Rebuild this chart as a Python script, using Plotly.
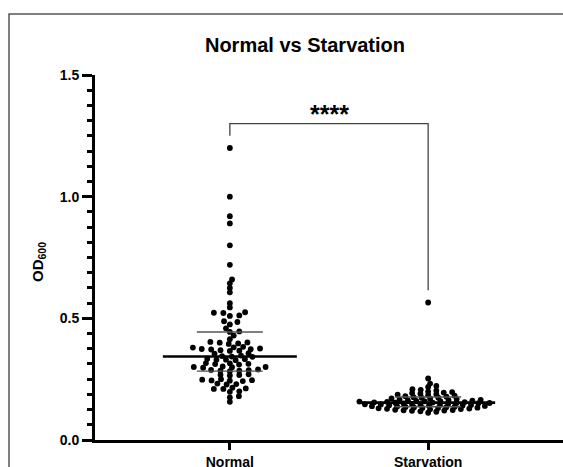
import numpy as np
import plotly.graph_objects as go

categories = ["Normal", "Starvation"]
normal_od = [0.157, 0.175, 0.18, 0.198, 0.20, 0.21, 0.21, 0.212, 0.215, 0.228, 0.23, 0.232,
             0.242, 0.244, 0.245, 0.246, 0.248, 0.25, 0.265, 0.267, 0.268, 0.27, 0.283, 0.285,
             0.285, 0.287, 0.288, 0.29, 0.297, 0.299, 0.30, 0.30, 0.302, 0.31, 0.312, 0.313,
             0.315, 0.316, 0.328, 0.33, 0.33, 0.332, 0.334, 0.342, 0.343, 0.345, 0.347, 0.355,
             0.357, 0.366, 0.367, 0.369, 0.372, 0.373, 0.374, 0.376, 0.38, 0.381, 0.383, 0.395,
             0.397, 0.40, 0.401, 0.403, 0.414, 0.429, 0.444, 0.446, 0.459, 0.475, 0.485, 0.488,
             0.51, 0.512, 0.522, 0.523, 0.525, 0.545, 0.562, 0.607, 0.625, 0.644, 0.66, 0.72,
             0.80, 0.89, 0.92, 1.00, 1.20]
starvation_od = [0.112, 0.116, 0.118, 0.12,
                 0.121, 0.122, 0.123, 0.124, 0.126, 0.127, 0.128, 0.129, 0.13,
                 0.131, 0.132, 0.133, 0.134, 0.135, 0.136, 0.137, 0.138, 0.139, 0.14, 0.141,
                 0.142, 0.143,
                 0.144, 0.145, 0.146, 0.146, 0.147, 0.148, 0.149, 0.15, 0.151, 0.152, 0.152,
                 0.153, 0.154, 0.155, 0.156, 0.157,
                 0.158, 0.159, 0.16, 0.161, 0.162, 0.163, 0.164, 0.165, 0.166, 0.168,
                 0.17, 0.171, 0.173, 0.174, 0.176, 0.178,
                 0.18, 0.182, 0.184, 0.186, 0.188,
                 0.19, 0.193, 0.195, 0.197, 0.199,
                 0.203, 0.206, 0.209,
                 0.218, 0.222,
                 0.232,
                 0.253,
                 0.565]
y_ticks = [0.0, 0.5, 1.0, 1.5]
y_tick_labels = ["0.0", "0.5", "1.0", "1.5"]
title_text = "Normal vs Starvation"
y_title = "OD<sub>600</sub>"
sig_label = "****"

# ---- geometry ----
W, H = 563, 467
ML, MR, MT, MB = 95, 0, 75, 27
XR = [-0.68, 1.68]
YR = [0.0, 1.5]
plot_w = W - ML - MR
plot_h = H - MT - MB
px_x = plot_w / (XR[1] - XR[0])
px_y = plot_h / (YR[1] - YR[0])
FONT = "Liberation Sans, Arial, sans-serif"


def swarm(vals, sx, sy):
    """Beeswarm x-offsets (px) with elliptical collision sx (horizontal) x sy (vertical)."""
    vals = np.asarray(vals, dtype=float)
    order = np.argsort(vals, kind="stable")
    ys = vals * px_y / sy
    placed = []
    offs = np.zeros(len(vals))
    for i in order:
        y = ys[i]
        near = [(qx, qy) for qx, qy in placed if abs(qy - y) < 1]
        cands = [0.0]
        for qx, qy in near:
            d = np.sqrt(max(0.0, 1 - (qy - y) ** 2))
            cands += [qx + d, qx - d]
        cands.sort(key=lambda c: (round(abs(c), 6), -c))
        chosen = cands[-1]
        for c in cands:
            if all((c - qx) ** 2 + (y - qy) ** 2 >= 0.999 for qx, qy in near):
                chosen = c
                break
        placed.append((chosen, y))
        offs[i] = chosen * sx
    return offs


groups = [normal_od, starvation_od]
params = [(9.5, 4.0), (8.5, 3.5)]

fig = go.Figure()

for gi, (vals, (sx, sy)) in enumerate(zip(groups, params)):
    offs = swarm(vals, sx, sy)
    fig.add_trace(go.Scatter(
        x=gi + offs / px_x, y=vals, mode="markers",
        marker=dict(size=5.8, color="black", line=dict(width=0)),
        showlegend=False, hoverinfo="y"))

for gi, vals in enumerate(groups):
    med = float(np.median(vals))
    q1, q3 = np.percentile(vals, [25, 75])
    half_m = 67 / px_x
    half_q = 33 / px_x
    for q in (q1, q3):
        fig.add_trace(go.Scatter(x=[gi - half_q, gi + half_q], y=[q, q], mode="lines",
                                 line=dict(color="#555555", width=1.4),
                                 showlegend=False, hoverinfo="skip"))
    fig.add_trace(go.Scatter(x=[gi - half_m, gi + half_m], y=[med, med], mode="lines",
                             line=dict(color="black", width=2.6),
                             showlegend=False, hoverinfo="skip"))

# significance bracket
top = 1.30
gap = 0.05
fig.add_trace(go.Scatter(
    x=[0, 0, 1, 1],
    y=[max(normal_od) + gap, top, top, max(starvation_od) + gap],
    mode="lines", line=dict(color="#444444", width=1.3),
    showlegend=False, hoverinfo="skip"))
fig.add_annotation(x=0.5, y=top, xref="x", yref="y", text=sig_label, showarrow=False,
                   yanchor="middle", yshift=10,
                   font=dict(family=FONT, size=25, color="black", weight="bold"))

# y title
fig.add_annotation(xref="paper", yref="paper", x=(38 - ML) / plot_w, y=(440 - 262) / plot_h,
                   text=y_title, textangle=-90, showarrow=False,
                   xanchor="center", yanchor="middle",
                   font=dict(family=FONT, size=15, color="black", weight="bold"))

# outer frame
fig.add_shape(type="rect", xref="paper", yref="paper",
              x0=(9 - ML) / plot_w, x1=1.3, y0=-0.5, y1=(440 - 14) / plot_h,
              line=dict(color="#555555", width=1.5), layer="below")

fig.update_layout(
    width=W, height=H,
    margin=dict(l=ML, r=MR, t=MT, b=MB, pad=0),
    paper_bgcolor="white", plot_bgcolor="white",
    template=None,
    title=dict(text=title_text, x=305 / W, xanchor="center", y=1 - 45 / H, yanchor="middle",
               xref="container", yref="container",
               font=dict(family=FONT, size=20, color="black", weight="bold")),
    font=dict(family=FONT, color="black"),
    showlegend=False,
)
fig.update_xaxes(range=XR, tickmode="array", tickvals=[0, 1], ticktext=categories,
                 showline=True, linecolor="black", linewidth=3,
                 ticks="outside", ticklen=7, tickwidth=2.5, tickcolor="black",
                 showgrid=False, zeroline=False, automargin=False,
                 tickfont=dict(family=FONT, size=14, color="black", weight="bold"))
fig.update_yaxes(range=YR, tickmode="array", tickvals=y_ticks, ticktext=y_tick_labels,
                 showline=True, linecolor="black", linewidth=3,
                 ticks="outside", ticklen=10, tickwidth=2.5, tickcolor="black",
                 minor=dict(tick0=0, dtick=0.0625, ticks="outside", ticklen=5,
                            tickwidth=2.5, tickcolor="black"),
                 showgrid=False, zeroline=False, automargin=False,
                 tickfont=dict(family=FONT, size=14, color="black", weight="bold"))

fig.write_html("out.html", config={"displayModeBar": False},
               post_script="document.body.style.margin='0px';document.body.style.overflow='hidden';")
